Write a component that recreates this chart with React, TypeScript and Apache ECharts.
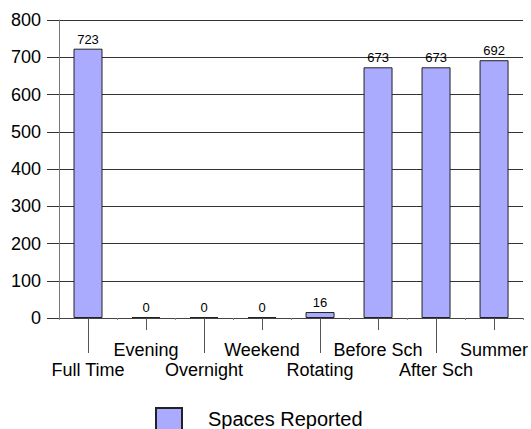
import React, { useEffect, useRef } from "react";
import * as echarts from "echarts";

const categories = ["Full Time", "Evening", "Overnight", "Weekend", "Rotating", "Before Sch", "After Sch", "Summer"];
const spacesReported = [723, 0, 0, 0, 16, 673, 673, 692];
const yTicks = { min: 0, max: 800, interval: 100 };
const seriesName = "Spaces Reported";

const FONT = "'Liberation Sans', Arial, sans-serif";

export default function App() {
  const ref = useRef<HTMLDivElement>(null);
  useEffect(() => {
    if (!ref.current) return;
    const chart = echarts.init(ref.current, null, { renderer: "svg" });
    const evenOnly = (i: number) => i % 2 === 0;
    const oddOnly = (i: number) => i % 2 === 1;
    chart.setOption({
      animation: false,
      backgroundColor: "#ffffff",
      textStyle: { fontFamily: FONT },
      grid: { left: 59, right: 7, top: 20, bottom: 111 },
      legend: {
        left: 150,
        top: 402,
        itemWidth: 26,
        itemHeight: 22,
        itemGap: 26,
        icon: "rect",
        textStyle: { fontSize: 20, color: "#000", fontFamily: FONT, padding: [0, 0, 0, 21] },
        data: [seriesName],
      },
      xAxis: [
        {
          type: "category",
          data: categories,
          position: "bottom",
          axisLine: { show: true, lineStyle: { color: "#444", width: 1 } },
          axisTick: { show: true, alignWithLabel: true, interval: evenOnly, length: 35, lineStyle: { color: "#555" } },
          axisLabel: { interval: evenOnly, margin: 43, fontSize: 18, color: "#000", fontFamily: FONT },
          splitLine: { show: false },
        },
        {
          type: "category",
          data: categories,
          position: "bottom",
          axisLine: { show: false },
          axisTick: { show: true, alignWithLabel: true, interval: oddOnly, length: 12, lineStyle: { color: "#555" } },
          axisLabel: { interval: oddOnly, margin: 23, fontSize: 18, color: "#000", fontFamily: FONT },
          splitLine: { show: false },
        },
        {
          type: "category",
          data: categories,
          position: "bottom",
          axisLine: { show: false },
          axisTick: { show: true, alignWithLabel: false, interval: 0, length: 2, lineStyle: { color: "#888" } },
          axisLabel: { show: false },
          splitLine: { show: false },
        },
      ],
      yAxis: {
        type: "value",
        min: yTicks.min,
        max: yTicks.max,
        interval: yTicks.interval,
        axisLine: { show: true, lineStyle: { color: "#777", width: 1 } },
        axisTick: { show: true, length: 12, lineStyle: { color: "#333" } },
        axisLabel: { margin: 18, fontSize: 18, color: "#000", fontFamily: FONT },
        splitLine: { show: true, lineStyle: { color: "#333", width: 1 } },
      },
      series: [
        {
          name: seriesName,
          type: "bar",
          xAxisIndex: 0,
          data: spacesReported,
          barWidth: 29,
          barMinHeight: 1,
          itemStyle: { color: "#aaaaff", borderColor: "#222", borderWidth: 1 },
          label: { show: true, position: "top", distance: 3, fontSize: 13, color: "#000", fontFamily: FONT },
        },
      ],
    });
    return () => chart.dispose();
  }, []);
  return <div ref={ref} style={{ position: "absolute", left: 0, top: 0, width: 531, height: 429 }} />;
}
